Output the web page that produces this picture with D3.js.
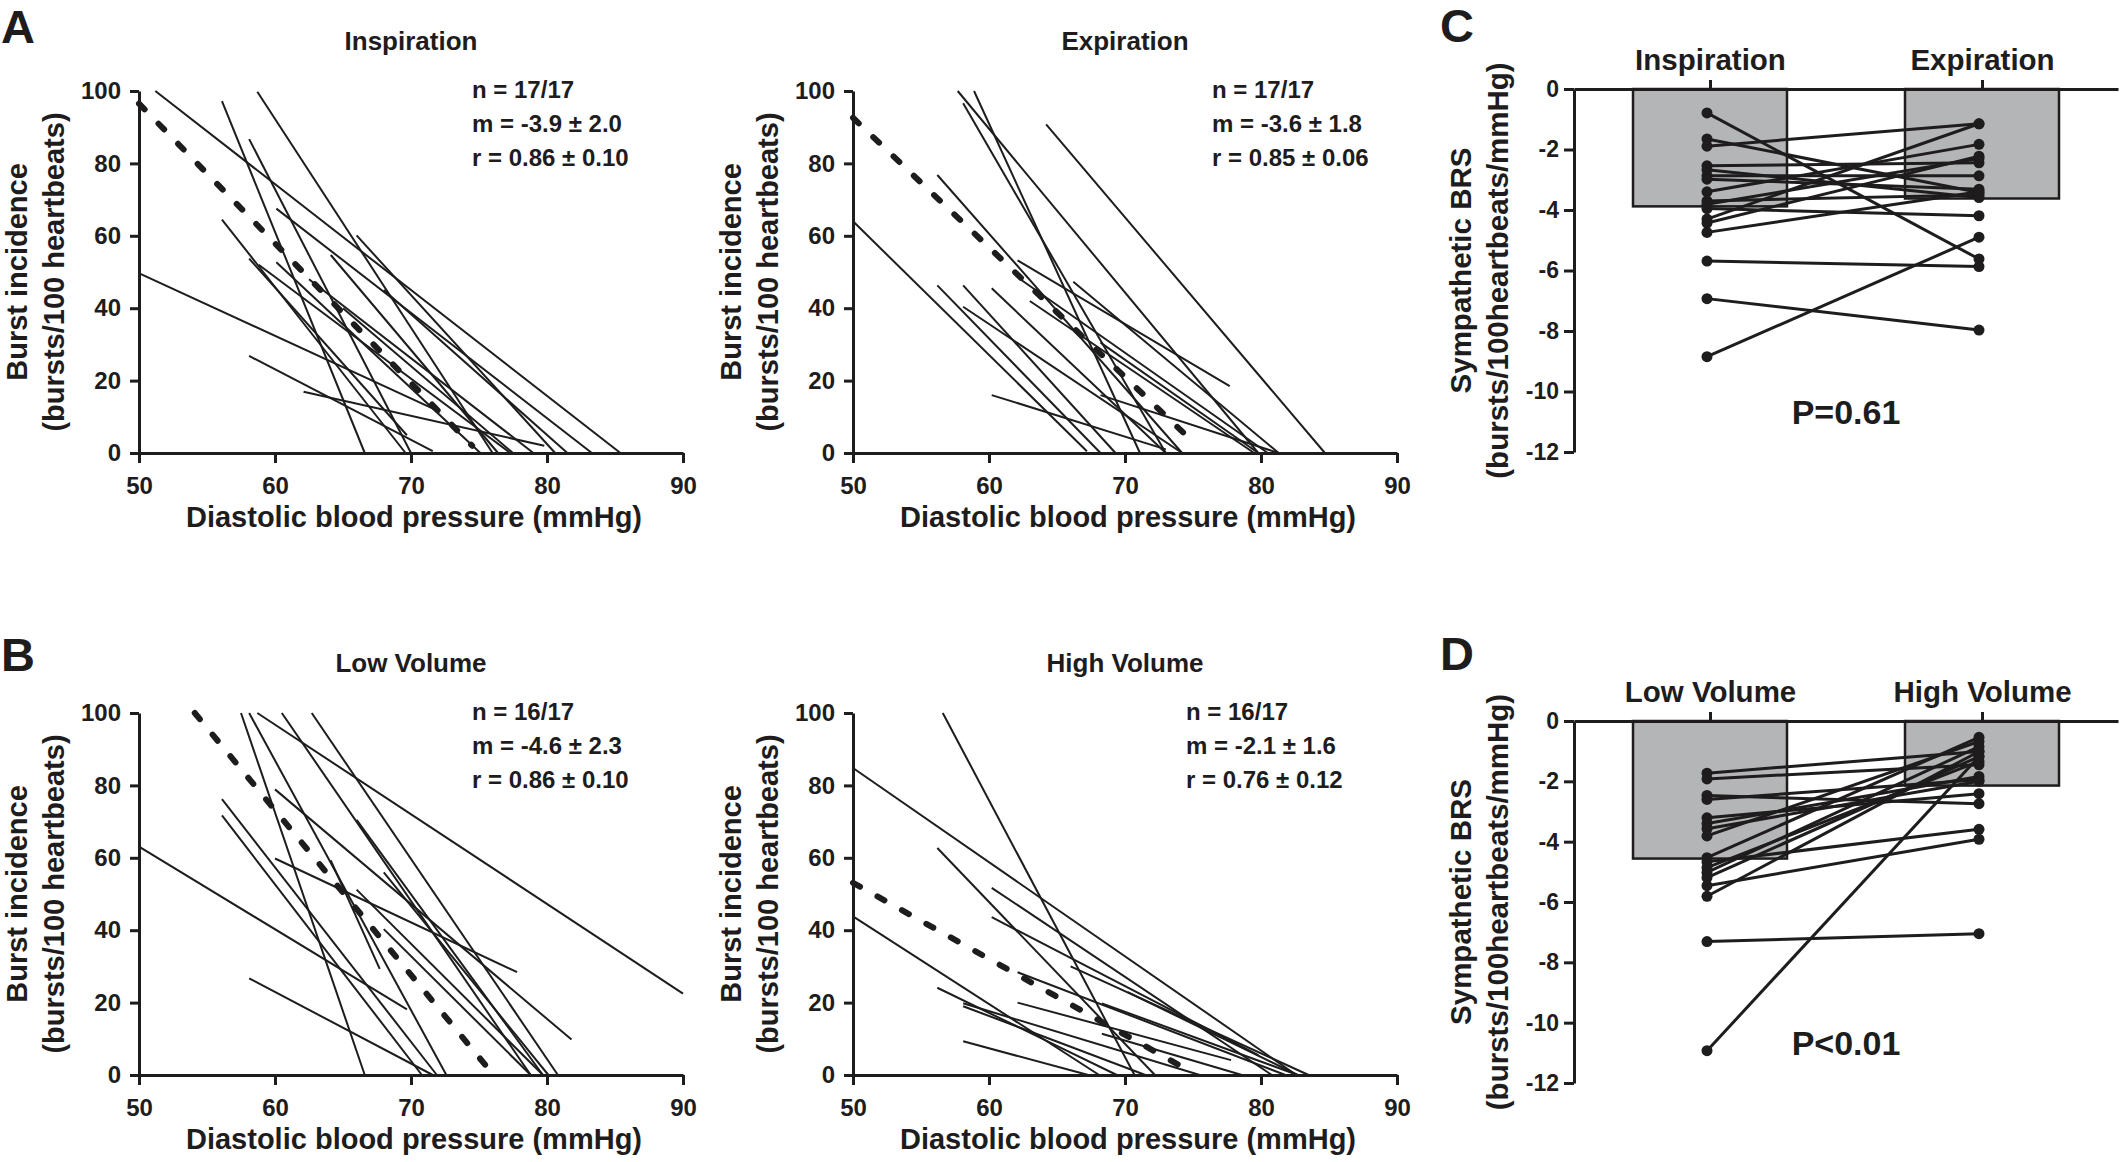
<!DOCTYPE html>
<html>
<head>
<meta charset="utf-8">
<script src="https://cdn.jsdelivr.net/npm/d3@7"></script>
<style>
  html, body { margin: 0; padding: 0; background: #fff; }
  svg text { font-family: "Liberation Sans", Arial, sans-serif; font-weight: bold; fill: #1e1c1d; }
</style>
</head>
<body>
<svg id="chart" width="2121" height="1162"></svg>
<script>
// ---- data ----
// regression segments per subject: [dbp start, burst start, dbp end, burst end]
const inspirationLines = [
  [50.1, 49.5, 71.9, 11.8], [51.2, 100, 85.4, 0], [56.1, 97.2, 66.6, 0],
  [58.1, 86.7, 70.0, 0], [58.7, 99.8, 76.0, 0], [56.1, 64.5, 69.6, 0],
  [58.1, 53.7, 69.7, 4.9], [58.8, 52.0, 77.3, 0], [60.1, 67.5, 83.3, 0],
  [60.1, 52.7, 75.1, 0], [64.1, 54.7, 76.4, 0], [66.0, 60.1, 80.6, 0],
  [58.1, 26.8, 71.6, 0.5], [62.1, 16.9, 79.8, 2.0], [68.0, 45.0, 81.5, 0],
  [62.5, 48.0, 79.0, 0], [65.0, 40.0, 77.5, 0]
];
const inspirationMean = [50, 96.5, 74.5, 2.0];

const expirationLines = [
  [50, 64, 67.2, 0.5], [57.7, 100, 79.8, 0], [58.9, 100, 71.1, 0],
  [58.1, 96.6, 73.0, 0], [64.2, 90.8, 84.7, 0], [56.2, 76.8, 74.2, 0],
  [56.2, 46.3, 68.2, 0], [58.1, 46.3, 69.3, 0], [58.1, 40.4, 74.2, 0],
  [60.2, 45.5, 73.0, 0], [62.1, 53.2, 77.7, 18.5], [66.2, 47.3, 81.3, 0],
  [68.2, 30.5, 79.8, 0], [68.2, 16.0, 81.3, 0], [60.2, 16.0, 73.0, 1.0],
  [62.3, 48.0, 80.5, 0], [63.0, 42.0, 79.5, 0]
];
const expirationMean = [50, 92.6, 75.3, 2.0];

const lowVolumeLines = [
  [50, 63.1, 69.7, 18.1], [57.5, 100, 66.6, 0], [58.1, 100, 72.6, 0],
  [58.7, 100, 90, 22.5], [60.5, 100, 78.8, 0], [62.7, 100, 80.8, 0],
  [56.1, 76.2, 71.9, 0], [56.1, 71.7, 70.8, 0], [60.0, 78.9, 81.8, 9.8],
  [60.0, 59.8, 77.8, 28.4], [64.1, 59.3, 67.7, 29.3], [66.0, 70.5, 79.7, 0],
  [66.0, 51.2, 79.7, 0], [68.0, 56.0, 80.1, 0], [68.0, 40.3, 78.8, 0],
  [58.1, 26.7, 71.6, 0]
];
const lowVolumeMean = [54.1, 100, 75.9, 0.8];

const highVolumeLines = [
  [50, 84.8, 82.6, 0], [50, 43.8, 68.1, 0], [56.6, 100, 70.7, 0],
  [56.2, 62.7, 72.2, 0], [60.2, 51.7, 80.8, 0], [60.2, 43.6, 79.8, 5.5],
  [56.2, 24.1, 69.4, 0], [58.1, 19.8, 75.5, 0], [58.1, 9.3, 67.3, 0],
  [62.1, 28.4, 81.8, 0], [62.1, 20.0, 77.8, 4.1], [68.3, 19.8, 82.7, 0],
  [70.2, 22.9, 82.7, 0], [68.3, 11.4, 78.6, 0], [58.1, 19.0, 71.5, 0],
  [66.0, 30.0, 83.5, 0]
];
const highVolumeMean = [50, 53.1, 74.9, 0.8];

const dbpTicks = [50, 60, 70, 80, 90];
const burstTicks = [0, 20, 40, 60, 80, 100];

// sympathetic BRS per subject (bursts/100 heartbeats/mmHg)
const phaseCategories = ["Inspiration", "Expiration"];
const phaseMeans = [-3.88, -3.62];
const inspirationBRS = [-0.79, -1.65, -1.89, -2.54, -2.67, -2.87, -2.98, -3.40, -3.70, -3.81, -3.95, -4.30, -4.43, -4.74, -5.69, -6.93, -8.85];
const expirationBRS  = [-5.62, -3.42, -1.15, -2.44, -3.59, -2.87, -3.31, -1.83, -3.50, -2.30, -4.19, -1.15, -2.22, -3.40, -5.87, -7.97, -4.90];

const volumeCategories = ["Low Volume", "High Volume"];
const volumeMeans = [-4.56, -2.14];
const lowVolumeBRS  = [-10.93, -7.31, -1.73, -1.92, -2.47, -2.60, -3.21, -3.40, -3.57, -3.81, -4.53, -4.67, -4.86, -5.02, -5.19, -5.46, -5.81];
const highVolumeBRS = [-1.18, -7.05, -1.01, -1.45, -2.74, -1.95, -2.41, -1.84, -2.00, -0.68, -0.54, -3.59, -1.34, -0.85, -1.18, -3.92, -1.01];

const brsTicks = [0, -2, -4, -6, -8, -10, -12];

const ink = "#1e1c1d";
const svg = d3.select("#chart");

function styleAxis(g, size) {
    g.attr("font-size", null).attr("font-family", null);
    g.selectAll("path.domain").attr("stroke", ink).attr("stroke-width", 3);
    g.selectAll(".tick line").attr("stroke", ink).attr("stroke-width", 3);
    g.selectAll(".tick text").style("font-size", size + "px");
}

function drawScatter(cfg) {
    const x = d3.scaleLinear().domain([50, 90]).range([cfg.left, cfg.right]);
    const y = d3.scaleLinear().domain([0, 100]).range([cfg.bottom, cfg.top]);
    const g = svg.append("g");

    // one regression line per subject
    g.selectAll("line.subject")
        .data(cfg.lines)
        .join("line")
        .attr("class", "subject")
        .attr("x1", d => x(d[0])).attr("y1", d => y(d[1]))
        .attr("x2", d => x(d[2])).attr("y2", d => y(d[3]))
        .attr("stroke", ink)
        .attr("stroke-width", 2);

    // group mean, dashed with rounded dashes
    g.append("line")
        .datum(cfg.mean)
        .attr("x1", d => x(d[0])).attr("y1", d => y(d[1]))
        .attr("x2", d => x(d[2])).attr("y2", d => y(d[3]))
        .attr("stroke", ink)
        .attr("stroke-width", 6)
        .attr("stroke-linecap", "round")
        .attr("stroke-dasharray", "8,20");

    g.append("g")
        .attr("transform", `translate(0,${cfg.bottom})`)
        .call(d3.axisBottom(x).tickValues(dbpTicks).tickSize(10).tickPadding(14).tickSizeOuter(0))
        .call(a => styleAxis(a, 24));

    g.append("g")
        .attr("transform", `translate(${cfg.left},0)`)
        .call(d3.axisLeft(y).tickValues(burstTicks).tickSize(9).tickPadding(9).tickSizeOuter(0))
        .call(a => styleAxis(a, 24));

    const midX = (cfg.left + cfg.right) / 2;
    const midY = (cfg.top + cfg.bottom) / 2;

    g.append("text")
        .attr("x", midX + 3).attr("y", cfg.bottom + 74)
        .attr("text-anchor", "middle")
        .style("font-size", "29px")
        .text("Diastolic blood pressure (mmHg)");

    [["Burst incidence", 112], ["(bursts/100 heartbeats)", 75]].forEach(([t, off]) => {
        g.append("text")
            .attr("transform", `translate(${cfg.left - off},${midY}) rotate(-90)`)
            .attr("text-anchor", "middle")
            .style("font-size", "29px")
            .text(t);
    });

    g.append("text")
        .attr("x", midX).attr("y", cfg.top - 41)
        .attr("text-anchor", "middle")
        .style("font-size", "26px")
        .text(cfg.title);

    cfg.stats.forEach((s, i) => {
        g.append("text")
            .attr("x", cfg.statsX).attr("y", cfg.top + 7 + i * 34)
            .style("font-size", "24px")
            .text(s);
    });
}

function drawBrs(cfg) {
    const x = d3.scalePoint().domain(cfg.categories).range([cfg.left, 2118]).padding(0.5);
    const y = d3.scaleLinear().domain([-12, 0]).range([cfg.bottom, cfg.top]);
    const g = svg.append("g");
    const barW = 154;

    g.selectAll("rect")
        .data(cfg.categories)
        .join("rect")
        .attr("x", d => x(d) - barW / 2)
        .attr("y", y(0))
        .attr("width", barW)
        .attr("height", (d, i) => y(cfg.means[i]) - y(0))
        .attr("fill", "#b4b5b7")
        .attr("stroke", ink)
        .attr("stroke-width", 2.5);

    const pairs = cfg.first.map((v, i) => [v, cfg.second[i]]);
    const c0 = x(cfg.categories[0]) - 3, c1 = x(cfg.categories[1]) - 3;

    g.selectAll("line.pair")
        .data(pairs)
        .join("line")
        .attr("class", "pair")
        .attr("x1", c0).attr("y1", d => y(d[0]))
        .attr("x2", c1).attr("y2", d => y(d[1]))
        .attr("stroke", ink)
        .attr("stroke-width", 3);

    g.selectAll("circle.first")
        .data(cfg.first)
        .join("circle")
        .attr("class", "first")
        .attr("cx", c0).attr("cy", d => y(d)).attr("r", 5.5)
        .attr("fill", ink);

    g.selectAll("circle.second")
        .data(cfg.second)
        .join("circle")
        .attr("class", "second")
        .attr("cx", c1).attr("cy", d => y(d)).attr("r", 5.5)
        .attr("fill", ink);

    // plain hyphen for negatives, as in the figure
    g.append("g")
        .attr("transform", `translate(${cfg.left},0)`)
        .call(d3.axisLeft(y).tickValues(brsTicks).tickFormat(d => String(d))
            .tickSize(10).tickPadding(5).tickSizeOuter(0))
        .call(a => styleAxis(a, 23));

    g.append("g")
        .attr("transform", `translate(0,${y(0)})`)
        .call(d3.axisTop(x).tickSize(9).tickPadding(10).tickSizeOuter(0))
        .call(a => styleAxis(a, 29.5));

    const midY = (cfg.top + cfg.bottom) / 2;
    [["Sympathetic BRS", 103], ["(bursts/100heartbeats/mmHg)", 66]].forEach(([t, off]) => {
        g.append("text")
            .attr("transform", `translate(${cfg.left - off},${midY}) rotate(-90)`)
            .attr("text-anchor", "middle")
            .style("font-size", "29.5px")
            .text(t);
    });

    g.append("text")
        .attr("x", (x(cfg.categories[0]) + x(cfg.categories[1])) / 2)
        .attr("y", cfg.bottom - 28)
        .attr("text-anchor", "middle")
        .style("font-size", "34px")
        .text(cfg.pText);
}

function panelLetter(t, px, py) {
    svg.append("text").attr("x", px).attr("y", py).style("font-size", "47px").text(t);
}

drawScatter({ left: 139, right: 683, top: 91, bottom: 453, lines: inspirationLines, mean: inspirationMean,
    title: "Inspiration", statsX: 472, stats: ["n = 17/17", "m = -3.9 ± 2.0", "r = 0.86 ± 0.10"] });
drawScatter({ left: 853, right: 1397, top: 91, bottom: 453, lines: expirationLines, mean: expirationMean,
    title: "Expiration", statsX: 1212, stats: ["n = 17/17", "m = -3.6 ± 1.8", "r = 0.85 ± 0.06"] });
drawScatter({ left: 139, right: 683, top: 713, bottom: 1075, lines: lowVolumeLines, mean: lowVolumeMean,
    title: "Low Volume", statsX: 472, stats: ["n = 16/17", "m = -4.6 ± 2.3", "r = 0.86 ± 0.10"] });
drawScatter({ left: 853, right: 1397, top: 713, bottom: 1075, lines: highVolumeLines, mean: highVolumeMean,
    title: "High Volume", statsX: 1186, stats: ["n = 16/17", "m = -2.1 ± 1.6", "r = 0.76 ± 0.12"] });

drawBrs({ left: 1574, top: 89, bottom: 452, categories: phaseCategories, means: phaseMeans,
    first: inspirationBRS, second: expirationBRS, pText: "P=0.61" });
drawBrs({ left: 1574, top: 721, bottom: 1083, categories: volumeCategories, means: volumeMeans,
    first: lowVolumeBRS, second: highVolumeBRS, pText: "P<0.01" });

panelLetter("A", 1, 43);
panelLetter("B", 1, 671);
panelLetter("C", 1440, 42);
panelLetter("D", 1440, 670);
</script>
</body>
</html>
